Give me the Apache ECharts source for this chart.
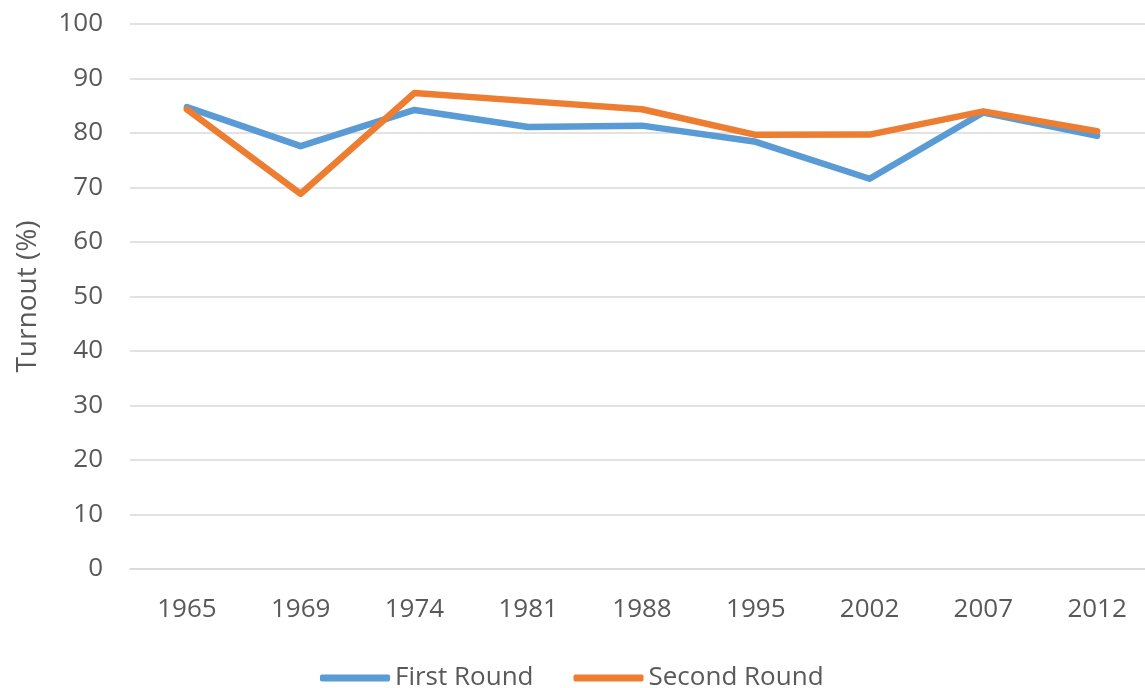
<!DOCTYPE html>
<html>
<head>
<meta charset="utf-8">
<script src="https://cdn.jsdelivr.net/npm/echarts@6/dist/echarts.min.js"></script>
<style>
    html, body { margin: 0; padding: 0; background: #fff; overflow: hidden; }
    /* a little wider than the window: the plot area runs past the right edge */
    #chart { width: 1154px; height: 688px; }
</style>
</head>
<body>
<div id="chart"></div>
<script>
// election years and turnout (%)
var years       = ['1965', '1969', '1974', '1981', '1988', '1995', '2002', '2007', '2012'];
var firstRound  = [84.75, 77.59, 84.23, 81.09, 81.35, 78.38, 71.60, 83.77, 79.48];
var secondRound = [84.32, 68.85, 87.33, 85.85, 84.35, 79.66, 79.71, 83.97, 80.35];
var seriesNames = ['First Round', 'Second Round'];

var font = '"Open Sans", "DejaVu Sans", sans-serif';
var textGray = '#595959';

var myChart = echarts.init(document.getElementById('chart'));
myChart.setOption({
    backgroundColor: '#fff',
    animation: false,
    color: ['#5B9BD5', '#ED7D31'],
    grid: {
        left: 130,
        top: 24,
        right: 0,
        bottom: 119,
        containLabel: false
    },
    legend: {
        data: seriesNames,
        top: 660,
        left: 315,
        icon: 'roundRect',
        itemWidth: 70,
        itemHeight: 7,
        itemGap: 40,
        textStyle: { color: textGray, fontSize: 26, fontFamily: font }
    },
    xAxis: {
        type: 'category',
        data: years,
        boundaryGap: true,
        axisLine: { lineStyle: { color: '#d9d9d9', width: 1.5 } },
        axisTick: { show: false },
        axisLabel: { color: textGray, fontSize: 26, fontFamily: font, margin: 28 }
    },
    yAxis: {
        type: 'value',
        min: 0,
        max: 100,
        interval: 10,
        name: 'Turnout (%)',
        nameLocation: 'middle',
        nameGap: 88,
        nameTextStyle: { color: textGray, fontSize: 28, fontFamily: font },
        axisLine: { show: false },
        axisTick: { show: false },
        axisLabel: { color: textGray, fontSize: 26, fontFamily: font, margin: 27 },
        splitLine: { lineStyle: { color: '#d9d9d9', width: 1.5 } }
    },
    series: [
        {
            name: seriesNames[0],
            type: 'line',
            data: firstRound,
            symbol: 'none',
            lineStyle: { width: 6.5, cap: 'round', join: 'round' }
        },
        {
            name: seriesNames[1],
            type: 'line',
            data: secondRound,
            symbol: 'none',
            lineStyle: { width: 6.5, cap: 'round', join: 'round' }
        }
    ]
});
</script>
</body>
</html>
